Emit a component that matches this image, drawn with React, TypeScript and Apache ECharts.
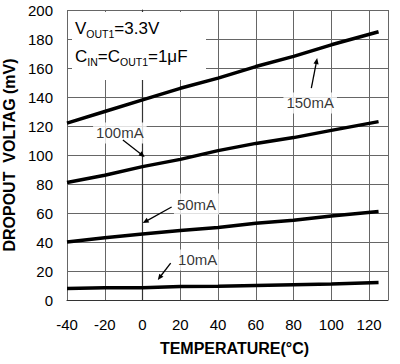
import React, { useEffect, useRef } from "react";
import * as echarts from "echarts";

const temps = [-40, -20, 0, 20, 40, 60, 80, 100, 125];
const i150 = [122, 130, 138, 146, 153, 161, 168, 176, 185];
const i100 = [81, 86, 92, 97, 103, 108, 112, 117, 123];
const i50 = [40, 43, 45.5, 48, 50, 53, 55, 58, 61];
const i10 = [8, 8.5, 8.5, 9.3, 9.5, 10, 10.5, 11, 12];
const xTicks = [-40, -20, 0, 20, 40, 60, 80, 100, 120];

const curveLabels = ["100mA", "150mA", "50mA", "10mA"];
const labelPos = [
  [-12.0, 115.2],
  [88.8, 135.9],
  [28.6, 66.2],
  [29.2, 27.6],
];
// arrows: [fromX, fromY, toX, toY] in data units
const arrows = [
  [-10.4, 110.3, 1.2, 98.6],
  [89.4, 146.2, 92.5, 166.9],
  [15.4, 64.1, 0.1, 53.1],
  [14.9, 25.5, 8.05, 13.8],
];

const FONT = "'Liberation Sans', Arial, sans-serif";

const zip = (ys: number[]) => temps.map((t, i) => [t, ys[i]]);

export default function App() {
  const ref = useRef<HTMLDivElement>(null);
  useEffect(() => {
    const chart = echarts.init(ref.current!, undefined, { renderer: "svg" });
    const lineSeries = (name: string, ys: number[]) => ({
      type: "line",
      name,
      data: zip(ys),
      showSymbol: false,
      symbol: "none",
      lineStyle: { color: "#000", width: 3.5 },
      z: 5,
    });
    const sub = { fontFamily: FONT, fontSize: 10.5, color: "#000", verticalAlign: "bottom", lineHeight: 14 };
    const main = { fontFamily: FONT, fontSize: 17, color: "#000", lineHeight: 21 };
    chart.setOption({
      animation: false,
      backgroundColor: "#fff",
      grid: { left: 67, right: 12, top: 10, bottom: 64, outerBoundsMode: "none", containLabel: false },
      xAxis: {
        type: "value",
        min: -40,
        max: 130,
        interval: 20,
        name: "TEMPERATURE(°C)",
        nameLocation: "middle",
        nameGap: 40,
        nameTextStyle: { fontFamily: FONT, fontSize: 16, fontWeight: "bold", color: "#000", padding: [0, 0, 0, 14] },
        axisLine: { show: true, lineStyle: { color: "#333", width: 1.2 } },
        axisTick: { show: false },
        axisLabel: {
          fontFamily: FONT,
          fontSize: 15,
          color: "#000",
          margin: 17,
          showMaxLabel: false,
          formatter: (v: number) => (xTicks.includes(v) ? String(v) : ""),
        },
        splitLine: { show: true, lineStyle: { color: "#666", width: 1 } },
      },
      yAxis: {
        type: "value",
        min: 0,
        max: 200,
        interval: 20,
        name: "DROPOUT  VOLTAG (mV)",
        nameLocation: "middle",
        nameGap: 46,
        nameTextStyle: { fontFamily: FONT, fontSize: 16, fontWeight: "bold", color: "#000" },
        axisLine: { show: true, lineStyle: { color: "#333", width: 1.2 } },
        axisTick: { show: false },
        axisLabel: { fontFamily: FONT, fontSize: 15, color: "#000", margin: 14 },
        splitLine: { show: true, lineStyle: { color: "#666", width: 1 } },
      },
      series: [
        lineSeries("150mA", i150),
        lineSeries("100mA", i100),
        lineSeries("50mA", i50),
        lineSeries("10mA", i10),
        {
          type: "scatter",
          symbolSize: 0,
          z: 4,
          data: labelPos.map((p, i) => ({ value: p, name: curveLabels[i] })),
          label: {
            show: true,
            position: "inside",
            formatter: (p: any) => p.name,
            fontFamily: FONT,
            fontSize: 15,
            color: "#000",
            backgroundColor: "#fff",
            padding: [3, 3],
          },
        },
        {
          type: "custom",
          z: 6,
          silent: true,
          encode: { x: [0, 2], y: [1, 3] },
          data: arrows,
          renderItem: (params: any, api: any) => {
            const a = api.coord([api.value(0), api.value(1)]);
            const b = api.coord([api.value(2), api.value(3)]);
            const dx = b[0] - a[0];
            const dy = b[1] - a[1];
            const len = Math.sqrt(dx * dx + dy * dy) || 1;
            const ux = dx / len;
            const uy = dy / len;
            const hl = 6;
            const hw = 2.6;
            const bx = b[0] - ux * hl;
            const by = b[1] - uy * hl;
            return {
              type: "group",
              children: [
                {
                  type: "line",
                  shape: { x1: a[0], y1: a[1], x2: bx + ux, y2: by + uy },
                  style: { stroke: "#000", lineWidth: 1.3 },
                },
                {
                  type: "polygon",
                  shape: {
                    points: [
                      [b[0], b[1]],
                      [bx - uy * hw, by + ux * hw],
                      [bx + uy * hw, by - ux * hw],
                    ],
                  },
                  style: { fill: "#000" },
                },
              ],
            };
          },
        },
      ],
      graphic: [
        { type: "rect", shape: { x: 72, y: 12, width: 134, height: 68 }, style: { fill: "#fff" }, z: 3 },
        {
          type: "text",
          x: 75,
          y: 18,
          z: 4,
          style: { text: "{a|V}{s|OUT1}{a|=3.3V}", rich: { a: main, s: sub } },
        },
        {
          type: "text",
          x: 75,
          y: 46,
          z: 4,
          style: { text: "{a|C}{s|IN}{a|=C}{s|OUT1}{a|=1μF}", rich: { a: main, s: sub } },
        },
      ],
    });
    return () => chart.dispose();
  }, []);
  return (
    <div
      ref={ref}
      style={{ position: "absolute", left: 0, top: 0, width: 400, height: 364 }}
    />
  );
}
